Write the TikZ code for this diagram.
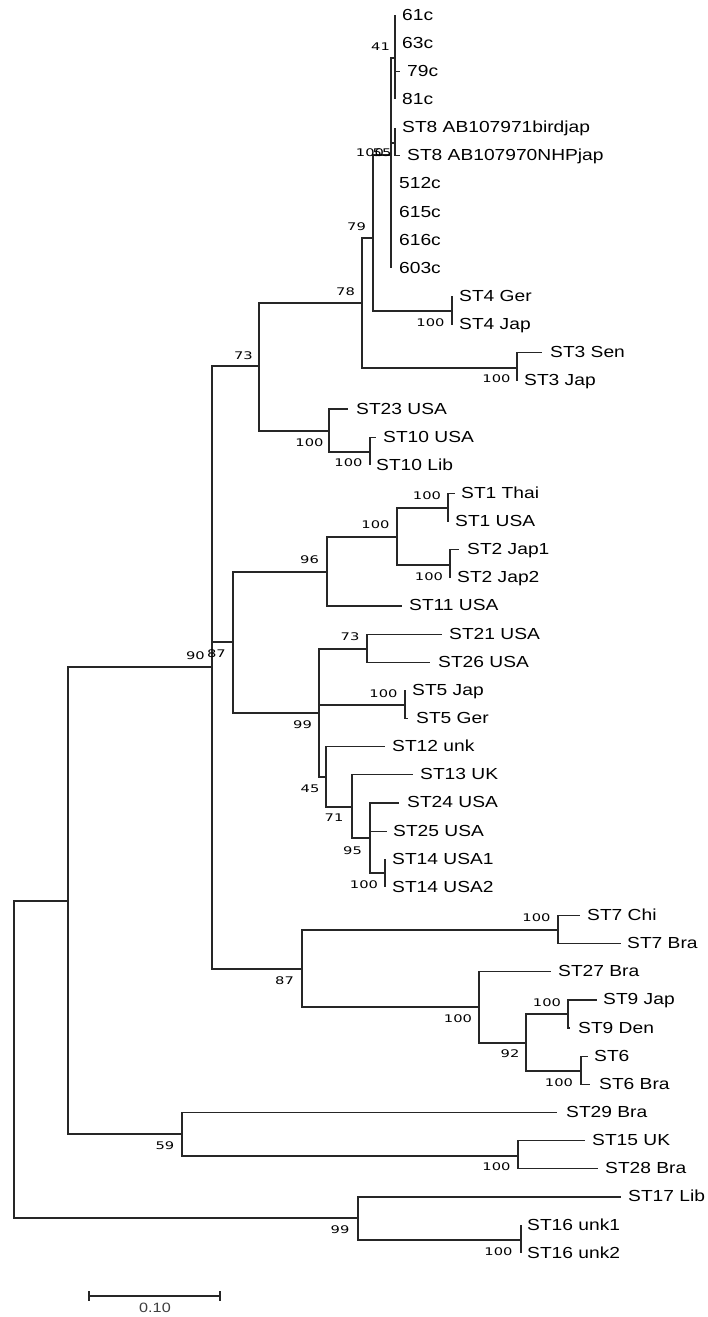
\documentclass[tikz,border=0pt]{standalone}
\usepackage{fontspec}
\newfontfamily\leaffont{Liberation Sans}[FakeStretch=1.2]
\newfontfamily\numfont{DejaVu Sans}[FakeStretch=1.4]
\newcommand\leafat[5]{\coordinate (#1) at (#2,#3); \node[leaf] (#1t) at (#4,{#3+5}) {#5};}
\newcommand\kids[2]{\foreach \c in {#2} {\draw[br] (#1) |- (\c);}}
\tikzset{
  br/.style={draw=black!85, line width=1.2pt},
  leaf/.style={anchor=base west, inner sep=0pt, text=black, font=\leaffont\fontsize{16}{18}\selectfont},
  bs/.style={inner sep=0pt, anchor=center, text=black, font=\numfont\fontsize{10.5}{12}\selectfont},
  sclab/.style={inner sep=0pt, anchor=center, text=black!75, font=\leaffont\fontsize{13.5}{15}\selectfont},
}
\begin{document}
\begin{tikzpicture}[x=1pt,y=-1pt]
\useasboundingbox (0,0) rectangle (707,1317);
% internal nodes
\coordinate (n41) at (395,58);
\coordinate (n8) at (395,143);
\coordinate (nP) at (391,155);
\coordinate (n79) at (373,238);
\coordinate (n4) at (452,311);
\coordinate (n3) at (517,368);
\coordinate (n78) at (362,303);
\coordinate (n23) at (329,431);
\coordinate (n10) at (370,452);
\coordinate (n73) at (259,366);
\coordinate (n90) at (212,667);
\coordinate (n87a) at (233,642);
\coordinate (n96) at (327,572);
\coordinate (n100a) at (397,537);
\coordinate (n1) at (448,508);
\coordinate (n2) at (450,565);
\coordinate (n99) at (319,713);
\coordinate (n73b) at (367,649);
\coordinate (n5) at (405,705);
\coordinate (n45) at (326,777);
\coordinate (n71) at (352,807);
\coordinate (n95) at (370,838);
\coordinate (n14) at (385,873);
\coordinate (n87b) at (302,969);
\coordinate (n7) at (558,930);
\coordinate (n100b) at (479,1007);
\coordinate (n92) at (526,1043);
\coordinate (n9) at (568,1014);
\coordinate (n6) at (581,1071);
\coordinate (n68) at (68,901);
\coordinate (n59) at (182,1134);
\coordinate (n15) at (518,1156);
\coordinate (root) at (14,1060);
\coordinate (n99b) at (358,1218);
\coordinate (n16) at (521,1240);
% leaves
\leafat{a61}{395}{15}{402}{61c}
\leafat{a63}{395}{43.1}{402}{63c}
\leafat{a79}{400}{71.3}{407}{79c}
\leafat{a81}{395}{99.4}{402}{81c}
\leafat{bird}{395}{127.6}{402}{ST8 AB107971birdjap}
\leafat{nhp}{400}{155.7}{407}{ST8 AB107970NHPjap}
\leafat{a512}{391}{183.8}{399}{512c}
\leafat{a615}{391}{212}{399}{615c}
\leafat{a616}{391}{240.1}{399}{616c}
\leafat{a603}{391}{268.3}{399}{603c}
\leafat{s4g}{452}{296.4}{459}{ST4 Ger}
\leafat{s4j}{452}{324.5}{459}{ST4 Jap}
\leafat{s3s}{542}{352.7}{550}{ST3 Sen}
\leafat{s3j}{517}{380.8}{524}{ST3 Jap}
\leafat{s23}{348}{409}{356}{ST23 USA}
\leafat{s10u}{376}{437.1}{383}{ST10 USA}
\leafat{s10l}{370}{465.2}{376}{ST10 Lib}
\leafat{s1t}{455}{493.4}{461}{ST1 Thai}
\leafat{s1u}{448}{521.5}{455}{ST1 USA}
\leafat{s2a}{459}{549.7}{467}{ST2 Jap1}
\leafat{s2b}{450}{577.8}{457}{ST2 Jap2}
\leafat{s11}{402}{605.9}{409}{ST11 USA}
\leafat{s21}{442}{634.1}{449}{ST21 USA}
\leafat{s26}{430}{662.2}{438}{ST26 USA}
\leafat{s5j}{405}{690.4}{412}{ST5 Jap}
\leafat{s5g}{408}{718.5}{416}{ST5 Ger}
\leafat{s12}{385}{746.6}{392}{ST12 unk}
\leafat{s13}{413}{774.8}{420}{ST13 UK}
\leafat{s24}{399}{802.9}{407}{ST24 USA}
\leafat{s25}{387}{831.1}{393}{ST25 USA}
\leafat{s14a}{385}{859.2}{392}{ST14 USA1}
\leafat{s14b}{385}{887.3}{392}{ST14 USA2}
\leafat{s7c}{580}{915.5}{587}{ST7 Chi}
\leafat{s7b}{621}{943.6}{627}{ST7 Bra}
\leafat{s27}{551}{971.8}{558}{ST27 Bra}
\leafat{s9j}{597}{999.9}{603}{ST9 Jap}
\leafat{s9d}{570}{1028}{578}{ST9 Den}
\leafat{s6}{588}{1056.2}{594}{ST6}
\leafat{s6b}{590}{1084.3}{599}{ST6 Bra}
\leafat{s29}{557}{1112.5}{566}{ST29 Bra}
\leafat{s15}{585}{1140.6}{592}{ST15 UK}
\leafat{s28}{598}{1168.7}{605}{ST28 Bra}
\leafat{s17}{621}{1196.9}{628}{ST17 Lib}
\leafat{s16a}{521}{1225}{527}{ST16 unk1}
\leafat{s16b}{521}{1253.2}{527}{ST16 unk2}
% branches
\kids{n41}{a61,a63,a79,a81}
\kids{n8}{bird,nhp}
\kids{nP}{n41,n8,a512,a615,a616,a603}
\kids{n79}{nP,n4}
\kids{n4}{s4g,s4j}
\kids{n3}{s3s,s3j}
\kids{n78}{n79,n3}
\kids{n23}{s23,n10}
\kids{n10}{s10u,s10l}
\kids{n73}{n78,n23}
\kids{n90}{n73,n87a,n87b}
\kids{n87a}{n96,n99}
\kids{n96}{n100a,s11}
\kids{n100a}{n1,n2}
\kids{n1}{s1t,s1u}
\kids{n2}{s2a,s2b}
\kids{n99}{n73b,n5,n45}
\kids{n73b}{s21,s26}
\kids{n5}{s5j,s5g}
\kids{n45}{s12,n71}
\kids{n71}{s13,n95}
\kids{n95}{s24,s25,n14}
\kids{n14}{s14a,s14b}
\kids{n87b}{n7,n100b}
\kids{n7}{s7c,s7b}
\kids{n100b}{s27,n92}
\kids{n92}{n9,n6}
\kids{n9}{s9j,s9d}
\kids{n6}{s6,s6b}
\kids{n68}{n90,n59}
\kids{n59}{s29,n15}
\kids{n15}{s15,s28}
\kids{root}{n68,n99b}
\kids{n99b}{s17,n16}
\kids{n16}{s16a,s16b}
% bootstrap values
\node[bs] (b41) at (380.5,47) {41};
\node[bs] (bP) at (370,153) {100};
\node[bs] (b8) at (382,153) {55};
\node[bs] (b79) at (356.5,227) {79};
\node[bs] (b78) at (345.5,292) {78};
\node[bs] (b4) at (430.5,323) {100};
\node[bs] (b3) at (496.5,379) {100};
\node[bs] (b73) at (243.5,356) {73};
\node[bs] (b23) at (309.5,443) {100};
\node[bs] (b10) at (348.5,463) {100};
\node[bs] (b1) at (427,496) {100};
\node[bs] (b100a) at (375.5,525) {100};
\node[bs] (b96) at (309.5,560) {96};
\node[bs] (b2) at (429,577) {100};
\node[bs] (b73b) at (350,637) {73};
\node[bs] (b87a) at (216.5,654) {87};
\node[bs] (b90) at (195.5,656) {90};
\node[bs] (b5) at (383.5,694) {100};
\node[bs] (b99) at (302.5,725) {99};
\node[bs] (b45) at (310,789) {45};
\node[bs] (b71) at (334,818) {71};
\node[bs] (b95) at (352.5,851) {95};
\node[bs] (b14) at (364,885) {100};
\node[bs] (b7) at (536.5,918) {100};
\node[bs] (b87b) at (284.5,981) {87};
\node[bs] (b9) at (547,1003) {100};
\node[bs] (b100b) at (458,1019) {100};
\node[bs] (b92) at (510,1054) {92};
\node[bs] (b6) at (559,1083) {100};
\node[bs] (b59) at (165,1146) {59};
\node[bs] (b15) at (496.5,1167) {100};
\node[bs] (b99b) at (340,1230) {99};
\node[bs] (b16) at (498.5,1252) {100};
% scale bar
\coordinate (sbL) at (89,1296);
\coordinate (sbR) at (220,1296);
\draw[br] (sbL) -- (sbR);
\draw[br] ([shift={(0,-5)}]sbL) -- ([shift={(0,5)}]sbL);
\draw[br] ([shift={(0,-5)}]sbR) -- ([shift={(0,5)}]sbR);
\node[sclab] (sc) at (155,1307.5) {0.10};
\end{tikzpicture}
\end{document}
